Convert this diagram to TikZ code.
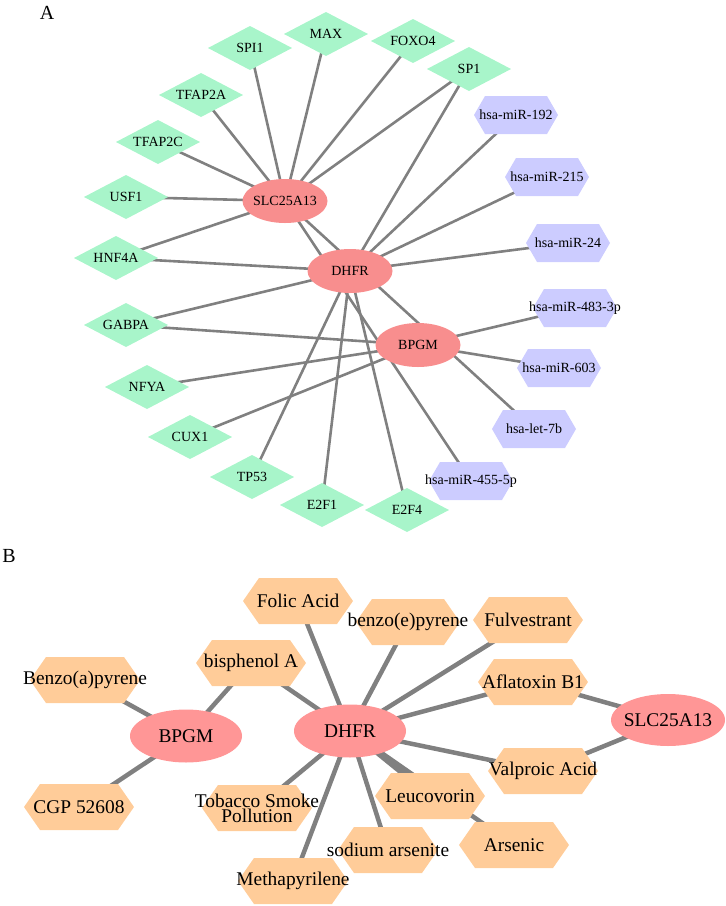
\documentclass[tikz,border=0pt]{standalone}
\usepackage{fontspec}
\setmainfont{Liberation Serif}
\usetikzlibrary{shapes.geometric,backgrounds}
\definecolor{tfgreen}{RGB}{168,245,202}
\definecolor{mirpurple}{RGB}{204,204,255}
\definecolor{genepinkA}{RGB}{248,142,142}
\definecolor{genepinkB}{RGB}{255,150,150}
\definecolor{chemorange}{RGB}{255,204,153}
\definecolor{edgegray}{RGB}{128,128,128}
\newcommand\zb[1]{\makebox[0pt]{#1}}
\tikzset{
  fontA/.style={font=\fontsize{14}{16}\selectfont},
  fontB/.style={font=\fontsize{19.4}{22}\selectfont},
  tfnode/.style={rectangle, inner sep=0pt, minimum width=84pt, minimum height=44pt, fontA,
    path picture={\fill[tfgreen] (path picture bounding box.north) -- (path picture bounding box.east)
      -- (path picture bounding box.south) -- (path picture bounding box.west) -- cycle;}},
  mirnode/.style={rectangle, inner sep=0pt, minimum width=84pt, minimum height=38pt, fontA,
    path picture={\fill[mirpurple] ([xshift=11pt]path picture bounding box.north west)
      -- ([xshift=-11pt]path picture bounding box.north east) -- (path picture bounding box.east)
      -- ([xshift=-11pt]path picture bounding box.south east) -- ([xshift=11pt]path picture bounding box.south west)
      -- (path picture bounding box.west) -- cycle;}},
  chemnode/.style={rectangle, inner sep=0pt, minimum width=110pt, minimum height=46pt, fontB,
    path picture={\fill[chemorange] ([xshift=16pt]path picture bounding box.north west)
      -- ([xshift=-16pt]path picture bounding box.north east) -- (path picture bounding box.east)
      -- ([xshift=-16pt]path picture bounding box.south east) -- ([xshift=16pt]path picture bounding box.south west)
      -- (path picture bounding box.west) -- cycle;}},
  geneA/.style={ellipse, inner sep=0pt, fill=genepinkA, minimum width=85pt, minimum height=44pt, fontA},
  geneB/.style={ellipse, inner sep=0pt, fill=genepinkB, minimum width=112pt, minimum height=53pt, fontB},
  edgeA/.style={draw=edgegray, line width=2.6pt},
  edgeB/.style={draw=edgegray, line width=4.5pt},
  panellabel/.style={font=\fontsize{20}{22}\selectfont, inner sep=0pt}
}
\begin{document}
\begin{tikzpicture}[x=1pt,y=-1pt]
\useasboundingbox (0,0) rectangle (726,906);
\node[panellabel] (labA) at (47,13) {A};
\node[panellabel] (labB) at (9,556) {B};
% ---------- Panel A nodes
\node[geneA] (slcA) at (285,201) {\zb{SLC25A13}};
\node[geneA] (dhfrA) at (350,271) {\zb{DHFR}};
\node[geneA] (bpgmA) at (418,345) {\zb{BPGM}};
\node[tfnode] (spi1) at (250,48) {\zb{SPI1}};
\node[tfnode] (max) at (326,34) {\zb{MAX}};
\node[tfnode] (foxo4) at (413,41) {\zb{FOXO4}};
\node[tfnode] (sp1) at (469,69) {\zb{SP1}};
\node[tfnode] (tfap2a) at (201,95) {\zb{TFAP2A}};
\node[tfnode] (tfap2c) at (158,142) {\zb{TFAP2C}};
\node[tfnode] (usf1) at (126,197) {\zb{USF1}};
\node[tfnode] (hnf4a) at (116,258) {\zb{HNF4A}};
\node[tfnode] (gabpa) at (126,325) {\zb{GABPA}};
\node[tfnode] (nfya) at (147,387) {\zb{NFYA}};
\node[tfnode] (cux1) at (190,437) {\zb{CUX1}};
\node[tfnode] (tp53) at (252,477) {\zb{TP53}};
\node[tfnode] (e2f1) at (322,505) {\zb{E2F1}};
\node[tfnode] (e2f4) at (407,510) {\zb{E2F4}};
\node[mirnode] (mir192) at (516,115) {\zb{hsa-miR-192}};
\node[mirnode] (mir215) at (547,177) {\zb{hsa-miR-215}};
\node[mirnode] (mir24) at (568,243) {\zb{hsa-miR-24}};
\node[mirnode] (mir483) at (575,308) {\zb{hsa-miR-483-3p}};
\node[mirnode] (mir603) at (559,368) {\zb{hsa-miR-603}};
\node[mirnode] (let7b) at (534,429) {\zb{hsa-let-7b}};
\node[mirnode] (mir455) at (471,481) {\zb{hsa-miR-455-5p}};
% ---------- Panel B nodes
\node[geneB] (bpgmB) at (186,736) {\zb{BPGM}};
\node[geneB] (dhfrB) at (350,731) {\zb{DHFR}};
\node[geneB, minimum width=114pt, minimum height=52pt] (slcB) at (668,720) {\zb{SLC25A13}};
\node[chemnode] (benzoa) at (85,680) {\zb{Benzo(a)pyrene}};
\node[chemnode] (folic) at (298,601) {\zb{Folic Acid}};
\node[chemnode] (bisa) at (251,663) {\zb{bisphenol A}};
\node[chemnode, minimum width=104pt] (benzoe) at (408,622) {\zb{benzo(e)pyrene}};
\node[chemnode] (fulv) at (528,620) {\zb{Fulvestrant}};
\node[chemnode] (afla) at (533,682) {\zb{Aflatoxin B1}};
\node[chemnode] (valp) at (543,771) {\zb{Valproic Acid}};
\node[chemnode] (leuc) at (430,796) {\zb{Leucovorin}};
\node[chemnode] (ars) at (514,845) {\zb{Arsenic}};
\node[chemnode, minimum width=100pt] (sodium) at (388,850) {\zb{sodium arsenite}};
\node[chemnode] (meth) at (293,881) {\zb{Methapyrilene}};
\node[chemnode] (tob) at (257,808) {\zb{\vbox{\baselineskip=15pt\lineskiplimit=-20pt\hbox to 0pt{\hss Tobacco Smoke\hss}\hbox to 0pt{\hss Pollution\hss}}}};
\node[chemnode] (cgp) at (79,807) {\zb{CGP 52608}};
% ---------- edges (behind nodes)
\begin{scope}[on background layer]
\foreach \t in {spi1,max,foxo4,sp1,tfap2a,tfap2c,usf1,hnf4a,mir455,let7b}
  \draw[edgeA] (slcA.center) -- (\t.center);
\foreach \t in {sp1,mir192,mir215,mir24,hnf4a,gabpa,tp53,e2f1,e2f4}
  \draw[edgeA] (dhfrA.center) -- (\t.center);
\foreach \t in {mir483,mir603,gabpa,nfya,cux1}
  \draw[edgeA] (bpgmA.center) -- (\t.center);
\foreach \t in {benzoa,bisa,cgp}
  \draw[edgeB] (bpgmB.center) -- (\t.center);
\foreach \t in {bisa,folic,benzoe,fulv,afla,valp,tob,meth,sodium,leuc,ars}
  \draw[edgeB] (dhfrB.center) -- (\t.center);
\draw[edgeB] (dhfrB.center) to[bend left=5] (leuc.center);
\foreach \t in {afla,valp}
  \draw[edgeB] (slcB.center) -- (\t.center);
\end{scope}
\end{tikzpicture}
\end{document}
